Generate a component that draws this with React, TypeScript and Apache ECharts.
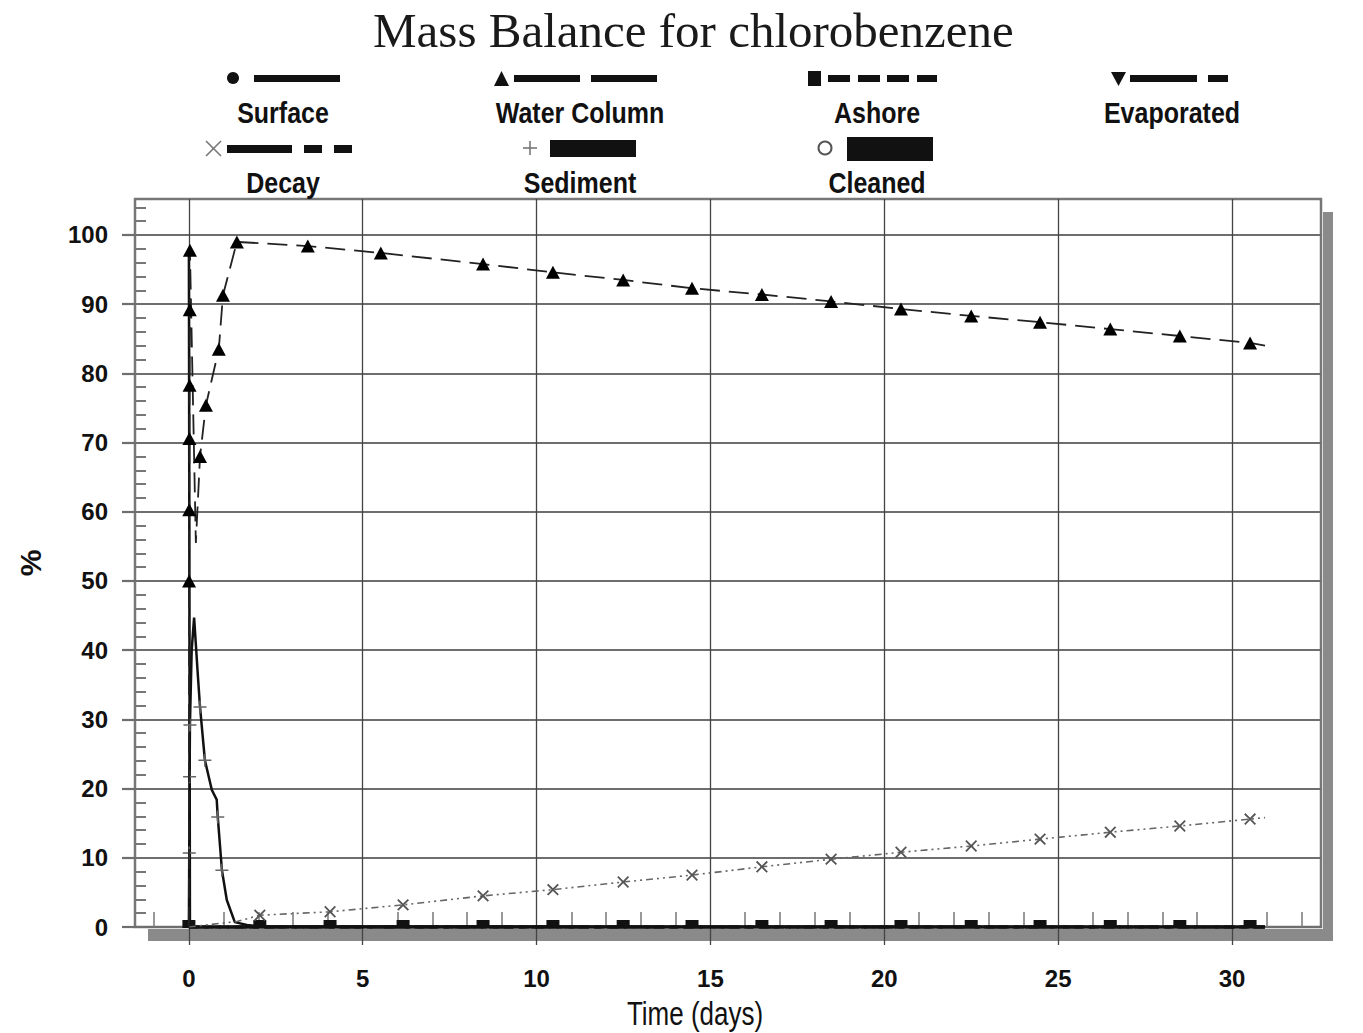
import React, { useEffect, useRef } from "react";
import * as echarts from "echarts";

// ---- data (time in days, values in % of spilled mass) ----
const waterTime = [0, 0.005, 0.01, 0.015, 0.02, 0.025, 0.03, 0.2, 0.32, 0.49, 0.86, 0.98, 1.38, 3.42, 5.52, 8.46, 10.47, 12.49, 14.47, 16.48, 18.47, 20.48, 22.5, 24.48, 26.5, 28.5, 30.52, 30.95];
const waterValue = [0, 50, 60.3, 70.6, 78.3, 89.2, 97.8, 55.5, 68, 75.4, 83.5, 91.3, 99.0, 98.4, 97.4, 95.8, 94.6, 93.5, 92.3, 91.4, 90.4, 89.3, 88.3, 87.4, 86.4, 85.4, 84.4, 84.0];
const waterMarked = [1, 2, 3, 4, 5, 6, 8, 9, 10, 11, 12, 13, 14, 15, 16, 17, 18, 19, 20, 21, 22, 23, 24, 25, 26];

const sedimentTime = [0, 0.01, 0.02, 0.03, 0.08, 0.15, 0.26, 0.32, 0.46, 0.66, 0.8, 0.83, 0.95, 1.09, 1.32, 1.67, 2.04, 30.95];
const sedimentValue = [0, 10.7, 21.7, 29.2, 40, 44.7, 36.2, 31.8, 24.1, 19.8, 18.4, 15.9, 8.2, 3.9, 0.7, 0.3, 0.1, 0];
const sedimentMarked = [1, 2, 3, 7, 8, 11, 12];

const decayTime = [0, 1.38, 2.04, 4.06, 6.16, 8.46, 10.47, 12.49, 14.47, 16.48, 18.47, 20.48, 22.5, 24.48, 26.5, 28.5, 30.52, 30.95];
const decayValue = [0, 0.8, 1.7, 2.2, 3.2, 4.5, 5.4, 6.5, 7.5, 8.7, 9.8, 10.8, 11.7, 12.7, 13.7, 14.6, 15.6, 15.8];
const decayMarked = [2, 3, 4, 5, 6, 7, 8, 9, 10, 11, 12, 13, 14, 15, 16];

const surfaceTime = [0, 0.03, 30.95];
const surfaceValue = [98, 0, 0];

const shoreTime = [0, 2.04, 4.06, 6.16, 8.46, 10.47, 12.49, 14.47, 16.48, 18.47, 20.48, 22.5, 24.48, 26.5, 28.5, 30.52, 30.95];
const ashoreValue = [0, 0, 0, 0, 0, 0, 0, 0, 0, 0, 0, 0, 0, 0, 0, 0, 0];
const evaporatedValue = [0, 0, 0, 0, 0, 0, 0, 0, 0, 0, 0, 0, 0, 0, 0, 0, 0];
const cleanedValue = [0, 0, 0, 0, 0, 0, 0, 0, 0, 0, 0, 0, 0, 0, 0, 0, 0];
const ashoreMarked = [0, 1, 2, 3, 4, 5, 6, 7, 8, 9, 10, 11, 12, 13, 14, 15];

const xMajorTicks = [0, 5, 10, 15, 20, 25, 30];
const xMinorTicks = [-1, 1, 2, 3, 4, 6, 7, 8, 9, 11, 12, 13, 14, 16, 17, 18, 19, 21, 22, 23, 24, 26, 27, 28, 29, 31, 32];
const yMajorTicks = [0, 10, 20, 30, 40, 50, 60, 70, 80, 90, 100];
const yMinorTicks = [2, 4, 6, 8, 12, 14, 16, 18, 22, 24, 26, 28, 32, 34, 36, 38, 42, 44, 46, 48, 52, 54, 56, 58, 62, 64, 66, 68, 72, 74, 76, 78, 82, 84, 86, 88, 92, 94, 96, 98, 102, 104];

const legendNames = ["Surface", "Water Column", "Ashore", "Evaporated", "Decay", "Sediment", "Cleaned"];

const PLUS = "path://M4.4,0H5.6V4.4H10V5.6H5.6V10H4.4V5.6H0V4.4H4.4Z";
const SANS = "'Liberation Sans', Arial, sans-serif";

function pairs(t: number[], v: number[], marked?: number[]) {
  return t.map((x, i) =>
    marked && marked.indexOf(i) < 0 ? { value: [x, v[i]], symbol: "none" } : { value: [x, v[i]] }
  );
}

function legendGraphics() {
  const black = "#111";
  const bar = (x: number, y: number, w: number, h: number, fill = black) => ({
    type: "rect",
    shape: { x, y, width: w, height: h },
    style: { fill },
  });
  const label = (text: string, x: number, y: number) => ({
    type: "text",
    x,
    y,
    scaleY: 1.15,
    style: {
      text,
      fill: "#111",
      font: `bold 25px ${SANS}`,
      textAlign: "center",
      textVerticalAlign: "middle",
    },
  });
  return [
    // row 1
    { type: "circle", shape: { cx: 233, cy: 78, r: 6 }, style: { fill: black } },
    bar(254, 75, 86, 7),
    label(legendNames[0], 283, 113),
    { type: "polygon", shape: { points: [[494, 86], [509, 86], [501.5, 71]] }, style: { fill: black } },
    bar(514, 75, 66, 7),
    bar(591, 75, 66, 7),
    label(legendNames[1], 580, 113),
    bar(808, 71, 13, 15),
    bar(828, 75, 22, 7),
    bar(858, 75, 22, 7),
    bar(887, 75, 22, 7),
    bar(917, 75, 20, 7),
    label(legendNames[2], 877, 113),
    { type: "polygon", shape: { points: [[1111, 72], [1126, 72], [1118.5, 86]] }, style: { fill: black } },
    bar(1130, 75, 67, 7),
    bar(1208, 75, 20, 7),
    label(legendNames[3], 1172, 113),
    // row 2
    { type: "line", shape: { x1: 206, y1: 141, x2: 221, y2: 156 }, style: { stroke: "#777", lineWidth: 1.6 } },
    { type: "line", shape: { x1: 206, y1: 156, x2: 221, y2: 141 }, style: { stroke: "#777", lineWidth: 1.6 } },
    bar(227, 145, 65, 8),
    bar(304, 145, 18, 8),
    bar(334, 145, 18, 8),
    label(legendNames[4], 283, 183),
    { type: "line", shape: { x1: 523, y1: 148, x2: 537, y2: 148 }, style: { stroke: "#777", lineWidth: 1.6 } },
    { type: "line", shape: { x1: 530, y1: 141, x2: 530, y2: 155 }, style: { stroke: "#777", lineWidth: 1.6 } },
    bar(550, 140, 86, 17),
    label(legendNames[5], 580, 183),
    { type: "circle", shape: { cx: 825, cy: 148, r: 6.5 }, style: { fill: "#fff", stroke: "#555", lineWidth: 2 } },
    bar(847, 137, 86, 24),
    label(legendNames[6], 877, 183),
    // x axis title
    {
      type: "text",
      x: 695,
      y: 1013,
      scaleY: 1.3,
      style: {
        text: "Time (days)",
        fill: "#111",
        font: `26px ${SANS}`,
        textAlign: "center",
        textVerticalAlign: "middle",
      },
    },
    // drop shadow of the plot frame
    bar(148, 929, 1185, 12, "#8a8a8a"),
    bar(1323, 212, 10, 729, "#8a8a8a"),
  ];
}

export default function App() {
  const ref = useRef<HTMLDivElement>(null);

  useEffect(() => {
    if (!ref.current) return;
    const chart = echarts.init(ref.current, null, { renderer: "svg" });

    const gridLineH = { color: "#6e6e6e", width: 2.2 };
    const gridLineV = { color: "#444", width: 1.3 };
    const tickFont = { fontFamily: SANS, fontWeight: "bold", fontSize: 24, color: "#111" };

    const option: any = {
      animation: false,
      backgroundColor: "#fff",
      title: {
        text: "Mass Balance for chlorobenzene",
        left: 368,
        top: 1,
        textStyle: {
          fontFamily: "'Liberation Serif', 'DejaVu Serif', serif",
          fontWeight: "normal",
          fontSize: 49,
          color: "#1a1a1a",
        },
      },
      graphic: legendGraphics(),
      grid: {
        left: 135,
        top: 199,
        width: 1186,
        height: 728,
        show: true,
        backgroundColor: "#fff",
        borderColor: "#777",
        borderWidth: 2.5,
      },
      xAxis: [
        {
          type: "value",
          min: -1.55,
          max: 32.56,
          splitNumber: 7,
          axisLine: { show: false, onZero: false },
          axisTick: { show: true, inside: false, length: 18, customValues: xMajorTicks, lineStyle: gridLineV },
          axisLabel: { customValues: xMajorTicks, margin: 39, ...tickFont },
          splitLine: { show: true, lineStyle: gridLineV },
        },
        {
          type: "value",
          min: -1.55,
          max: 32.56,
          position: "bottom",
          axisLine: { show: false, onZero: false },
          axisLabel: { show: false },
          splitLine: { show: false },
          axisTick: { show: true, inside: true, length: 15, customValues: xMinorTicks, lineStyle: { color: "#777", width: 1.5 } },
        },
      ],
      yAxis: [
        {
          type: "value",
          min: 0,
          max: 105.2,
          splitNumber: 10,
          name: "%",
          nameLocation: "middle",
          nameGap: 90,
          nameRotate: 90,
          nameTextStyle: { fontFamily: SANS, fontWeight: "bold", fontSize: 30, color: "#111" },
          axisLine: { show: false, onZero: false },
          axisTick: { show: true, inside: false, length: 13, customValues: yMajorTicks, lineStyle: gridLineH },
          axisLabel: { customValues: yMajorTicks, margin: 27, ...tickFont },
          splitLine: { show: true, lineStyle: gridLineH },
        },
        {
          type: "value",
          min: 0,
          max: 105.2,
          position: "left",
          axisLine: { show: false, onZero: false },
          axisLabel: { show: false },
          splitLine: { show: false },
          axisTick: { show: true, inside: true, length: 11, customValues: yMinorTicks, lineStyle: { color: "#777", width: 2 } },
        },
      ],
      series: [
        {
          name: legendNames[2],
          type: "line",
          data: pairs(shoreTime, ashoreValue, ashoreMarked),
          symbol: "rect",
          symbolSize: [13, 8],
          symbolOffset: [0, -3],
          showAllSymbol: true,
          clip: false,
          itemStyle: { color: "#111" },
          lineStyle: { color: "#111", width: 3, type: [10, 5] },
          z: 3,
        },
        {
          name: legendNames[3],
          type: "line",
          data: pairs(shoreTime, evaporatedValue),
          showSymbol: false,
          clip: false,
          lineStyle: { color: "#111", width: 3, type: [20, 6, 6, 6] },
          z: 3,
        },
        {
          name: legendNames[6],
          type: "line",
          data: pairs(shoreTime, cleanedValue),
          showSymbol: false,
          clip: false,
          lineStyle: { color: "#111", width: 3 },
          z: 3,
        },
        {
          name: legendNames[0],
          type: "line",
          data: pairs(surfaceTime, surfaceValue),
          showSymbol: false,
          clip: false,
          lineStyle: { color: "#111", width: 2.5 },
          z: 3,
        },
        {
          name: legendNames[5],
          type: "line",
          data: pairs(sedimentTime, sedimentValue, sedimentMarked),
          symbol: PLUS,
          symbolSize: 13,
          showAllSymbol: true,
          itemStyle: { color: "#666" },
          lineStyle: { color: "#111", width: 2.5 },
          z: 4,
        },
        {
          name: legendNames[4],
          type: "line",
          data: pairs(decayTime, decayValue, decayMarked),
          symbol: PLUS,
          symbolRotate: 45,
          symbolSize: 15,
          showAllSymbol: true,
          itemStyle: { color: "#555" },
          lineStyle: { color: "#666", width: 1.6, type: [7, 4, 2, 4, 2, 4] },
          z: 4,
        },
        {
          name: legendNames[1],
          type: "line",
          data: pairs(waterTime, waterValue, waterMarked),
          symbol: "triangle",
          symbolSize: [14, 13],
          showAllSymbol: true,
          itemStyle: { color: "#000" },
          lineStyle: { color: "#222", width: 1.8, type: [20, 9] },
          z: 5,
        },
      ],
    };

    chart.setOption(option);
    return () => chart.dispose();
  }, []);

  return (
    <div
      ref={ref}
      style={{ position: "absolute", left: 0, top: 0, width: 1363, height: 1033 }}
    />
  );
}
